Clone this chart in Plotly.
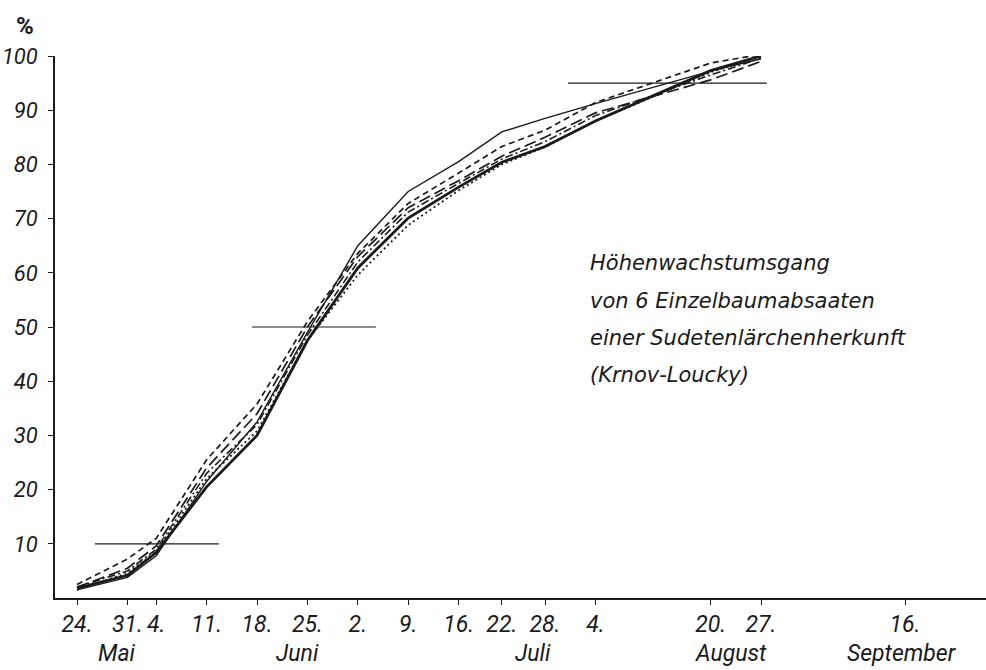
import plotly.graph_objects as go

# Days counted from 24 May (measurement dates)
days = [0, 7, 11, 18, 25, 32, 39, 46, 53, 59, 65, 72, 88, 95]

# Cumulative height growth (%) of six single-tree progenies
s_thin_solid  = [1.5, 3.8, 7.8, 21.5, 32.5, 49.0, 65.0, 75.0, 80.5, 86.0, 88.5, 91.2, 97.2, 99.5]
s_short_dash  = [2.5, 7.2, 11.0, 25.5, 35.8, 51.0, 63.6, 72.8, 78.4, 83.3, 86.3, 91.4, 98.7, 100.3]
s_long_dash   = [2.0, 5.5, 9.6, 24.0, 34.0, 50.0, 63.0, 72.0, 77.0, 81.5, 85.0, 89.5, 95.6, 99.0]
s_dash_dot    = [2.0, 5.0, 9.0, 23.0, 32.0, 48.5, 62.0, 71.2, 76.5, 81.0, 84.2, 89.0, 96.5, 99.6]
s_dotted      = [1.5, 4.6, 8.6, 22.0, 30.8, 47.5, 59.6, 68.8, 75.2, 80.0, 83.2, 88.0, 97.0, 100.0]
s_thick_solid = [1.8, 4.2, 8.4, 20.5, 30.0, 47.5, 60.9, 70.1, 75.8, 80.4, 83.3, 88.0, 97.3, 100.0]

series = [s_thin_solid, s_short_dash, s_long_dash, s_dash_dot, s_dotted, s_thick_solid]
styles = [
    dict(width=1.4, dash="solid"),
    dict(width=1.7, dash="6px,4px"),
    dict(width=1.7, dash="12px,5px"),
    dict(width=1.6, dash="8px,3px,2px,3px"),
    dict(width=1.8, dash="2px,3px"),
    dict(width=2.8, dash="solid"),
]

# Reference levels 10 %, 50 %, 95 % (start / end day of marker line)
ref_levels = [10, 50, 95]
ref_start = [2.5, 24.3, 68.2]
ref_end = [19.7, 41.5, 95.8]

# x tick labels
tick_days = [0, 7, 11, 18, 25, 32, 39, 46, 53, 59, 65, 72, 88, 95, 115]
tick_text = ["24.", "31.", "4.", "11.", "18.", "25.", "2.", "9.", "16.", "22.", "28.", "4.", "20.", "27.", "16."]
month_names = ["Mai", "Juni", "Juli", "August", "September"]
month_pos = [5.6, 30.6, 63.3, 90.8, 114.6]

y_ticks = [10, 20, 30, 40, 50, 60, 70, 80, 90, 100]

note_lines = ["Höhenwachstumsgang", "von 6 Einzelbaumabsaaten",
              "einer Sudetenlärchenherkunft", "(Krnov-Loucky)"]

FONT = "Roboto, DejaVu Sans"
NOTE_FONT = "DejaVu Sans, Roboto"
INK = "#1a1a1a"

# figure geometry (page body margin removed by post_script)
W, H = 986, 670
ML, MT, MB = 55, 56, 72
PW, PH = W - ML, H - MT - MB

fig = go.Figure()
for vals, st in zip(series, styles):
    fig.add_trace(go.Scatter(x=days, y=vals, mode="lines", cliponaxis=False,
                             line=dict(color=INK, width=st["width"], dash=st["dash"]),
                             showlegend=False, hoverinfo="skip"))

for lvl, a, b in zip(ref_levels, ref_start, ref_end):
    fig.add_trace(go.Scatter(x=[a, b], y=[lvl, lvl], mode="lines", cliponaxis=False,
                             line=dict(color=INK, width=1.2),
                             showlegend=False, hoverinfo="skip"))

annotations = []
for name, pos in zip(month_names, month_pos):
    annotations.append(dict(x=pos, y=-55 / PH, xref="x", yref="paper", text=name,
                            showarrow=False, xanchor="center", yanchor="middle",
                            font=dict(family=FONT, size=23, color=INK, style="italic")))

note_y = [263, 301, 338, 375]
for line, py in zip(note_lines, note_y):
    annotations.append(dict(x=(588 - ML) / PW, y=(598 - py) / PH, xref="paper", yref="paper",
                            text=line, showarrow=False, xanchor="left", yanchor="middle",
                            font=dict(family=NOTE_FONT, size=21, color=INK, style="italic")))

annotations.append(dict(x=(25 - ML) / PW, y=(598 - 26) / PH, xref="paper", yref="paper", text="%",
                        showarrow=False, xanchor="center", yanchor="middle",
                        font=dict(family=FONT, size=24, color=INK, weight="bold")))

fig.update_layout(
    width=W, height=H,
    margin=dict(l=ML, r=0, t=MT, b=MB, pad=0),
    paper_bgcolor="white", plot_bgcolor="white",
    annotations=annotations,
    hovermode=False,
    xaxis=dict(range=[-3.06, 126.25], showgrid=False, zeroline=False, automargin=False,
               showline=True, linecolor=INK, linewidth=1.5,
               tickmode="array", tickvals=tick_days, ticktext=tick_text, tickangle=0,
               ticks="outside", ticklen=5, tickcolor=INK, tickwidth=1.3,
               ticklabelstandoff=0,
               tickfont=dict(family=FONT, size=23, color=INK, style="italic")),
    yaxis=dict(range=[0, 100], showgrid=False, zeroline=False, automargin=False,
               showline=True, linecolor=INK, linewidth=1.5,
               tickmode="array", tickvals=y_ticks,
               ticks="outside", ticklen=5, tickcolor=INK, tickwidth=1.3,
               ticklabelstandoff=6,
               tickfont=dict(family=FONT, size=22, color=INK, style="italic")),
)

fig.write_html("out.html", config={"displayModeBar": False},
               post_script="document.body.style.margin='0';document.body.style.overflow='hidden';")
